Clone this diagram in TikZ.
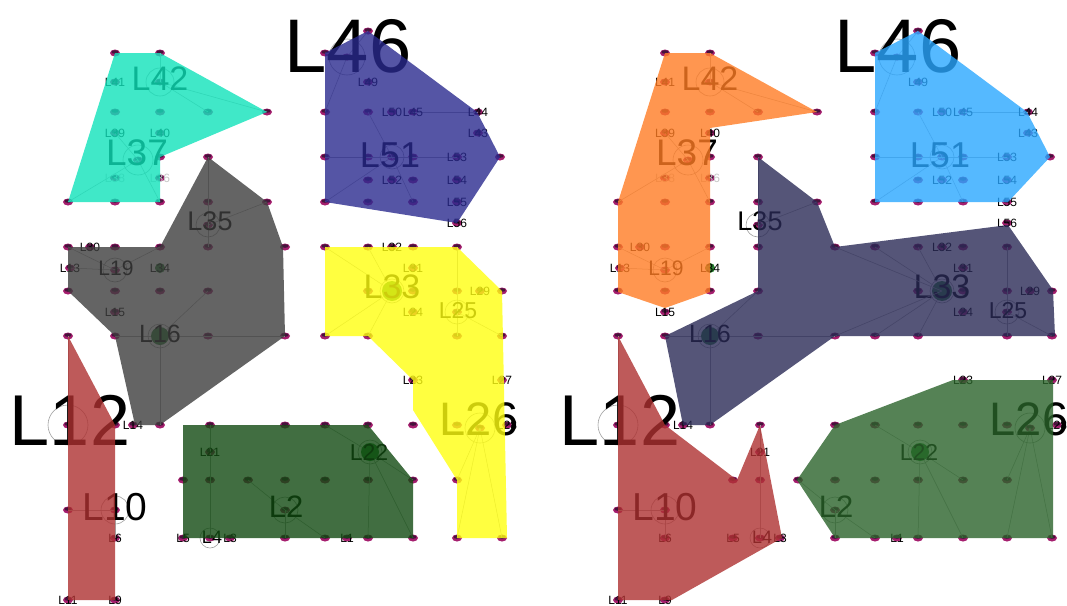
\documentclass[tikz,border=0pt]{standalone}
\usepackage{fontspec}
\setmainfont{Liberation Sans}
\usepackage{tikz}

\definecolor{nodo}{RGB}{165,30,110}
\definecolor{nodoscuro}{RGB}{70,20,60}
\definecolor{testaverde}{RGB}{40,130,50}
\definecolor{turchese}{RGB}{16,226,186}
\definecolor{grigio}{RGB}{61,61,61}
\definecolor{blunotte}{RGB}{42,42,142}
\definecolor{giallo}{RGB}{255,255,16}
\definecolor{verdescuro}{RGB}{17,74,17}
\definecolor{rosso}{RGB}{174,49,49}
\definecolor{arancio}{RGB}{255,124,36}
\definecolor{azzurro}{RGB}{42,167,255}
\definecolor{ardesia}{RGB}{42,42,86}
\definecolor{verde}{RGB}{42,99,42}

\newcommand{\fs}[1]{\fontsize{#1}{#1}\selectfont}

% rete comune ai due pannelli
\newcommand{\rete}{%
  % nodi
  \foreach \n/\x/\y in {H0/368/31, B1/115/53, C1/160/53, G1/325/53,
      L41/115/82, L42/160/82, L46/347/57, L49/368/82,
      B2/115/112, C2/160/112, D2/208/112, E2/267/112, G2/325/112, H2/368/112,
      L50/392/112, L45/413/112, L44/478/112, L39/115/133, L40/160/133, L43/478/133,
      C3/160/157, D3/208/157, L37/138/160, G3/325/157, H3/368/157, L51/392/157,
      I3/413/157, L53/457/157, K3/500/157,
      L38/115/178, L36/160/178, H35/368/180, L52/392/180, I35/413/180, L54/457/180,
      A4/68/202, B4/115/202, C4/160/202, D4/208/202, E4/267/202, G4/325/202,
      H4/368/202, I4/413/202, L55/457/202, L35/208/225, L56/457/223,
      A5/68/247, L30/90/247, B5/115/247, C5/160/247, D5/208/247, F5/285/247,
      G5/325/247, H5/368/247, L32/392/247, I5/413/247, J5/457/247,
      L13/70/268, L19/115/270, L34/160/268, L31/413/268,
      A6/68/291, B6/115/291, C6/160/291, D6/208/291, H6/368/291, L33/392/291,
      I6/413/291, J6/457/291, L29/480/291, K6/502/291,
      L15/115/312, L24/413/312, L25/457/312,
      A7/68/336, B7/115/336, L16/160/336, D7/208/336, F7/285/336, G7/325/336,
      H7/368/336, J7/457/336, K7/502/336, L23/413/380, L27/502/380,
      L12/68/425, B9/115/425, L14/133/425, C9/160/425, D9/210/425, F9/285/425,
      G9/325/425, H9/368/425, I9/413/425, J9/457/425, L26/480/428, L28/507/425,
      L21/210/452, L22/370/452,
      P10/183/480, D10/210/480, E10/248/480, F10/285/480, G10/325/480,
      H10/368/480, I10/413/480, J10/457/480,
      A10/68/510, L10/115/510, L2/285/510,
      L6/115/538, L5/183/538, L4/210/538, L3/230/538, F11/285/538, G11/325/538,
      L1/347/538, H11/368/538, I11/413/538, J11/457/538, K11/502/538,
      L11/68/600, L9/115/600}{
    \coordinate (\n) at (\x,\y);
    \fill[punto] (\n) ellipse (5 and 3.5);
    \fill[puntoscuro] (\x,\y-1) ellipse (3.6 and 1.8);
  }
  % collegamenti alle teste
  \foreach \a/\b in {L42/E2, L42/D2, L42/C1, L37/A4, L37/C4, L37/L39,
      L35/D3, L35/D5, L35/E4, L19/A5, L19/L13, L19/C5,
      L16/B7, L16/F7, L16/C9, L16/D6, L46/G1, L46/H0, L46/G2,
      L51/G3, L51/H2, L51/G4, L51/I4, L45/L44, L51/L53,
      L10/A10, L10/L6, L4/D9, L12/A7,
      L33/G5, L33/G7, L33/H7, L33/H5, L25/J5, L25/K7, L25/J7,
      L26/J11, L26/K11, L26/J10, L22/G9, L22/H11, L22/I11, L22/I10,
      L2/E10, L2/G11, L2/F11}
    \draw[raggio] (\a) -- (\b);
  % teste dei cluster
  \foreach \n/\r in {L42/14, L37/15, L35/12, L19/12, L16/12, L12/20, L10/14,
      L4/10, L2/13, L46/18, L51/12, L33/12, L25/12, L26/15, L22/12}
    \draw[cerchio] (\n) circle (\r);
  \fill[testa] (L16) circle (9);
  \fill[testa] (L22) circle (9);
  \fill[testa] (L33) circle (10);
  \fill[testa] (L34) circle (5);
  % etichette
  \foreach \n in {L41, L49, L50, L45, L44, L39, L40, L43, L53, L52, L54, L55,
      L56, L30, L13, L34, L32, L31, L29, L15, L24, L23, L27, L14, L28, L21,
      L6, L5, L3, L1, L11, L9}
    \node[etich] (t\n) at (\n) {\n};
  \node[etich, text=gray!45] (tL38) at (L38) {L38};
  \node[etich, text=gray!45] (tL36) at (L36) {L36};
  \foreach \n/\s/\x/\y in {L46/76/348/72, L12/72/70/445, L26/47/479/435,
      L10/39/115/520, L37/37/137/165, L51/36/390/167, L42/34/160/90,
      L33/34/392/298, L2/31/286/517, L35/27/210/230, L16/25/160/342,
      L25/23/458/318, L22/23/369/460, L19/21/116/275, L4/18/212/543}
    \node[grande, font=\fs{\s}] (t\n) at (\x,\y) {\n};
}

\begin{document}
\begin{tikzpicture}[x=1pt, y=-1pt,
    punto/.style={fill=nodo},
    puntoscuro/.style={fill=nodoscuro},
    raggio/.style={draw=gray!70, line width=0.5pt},
    cerchio/.style={draw=gray!75, line width=0.6pt},
    testa/.style={fill=testaverde},
    etich/.style={inner sep=0pt, font=\fs{12}},
    grande/.style={inner sep=0pt, anchor=base},
    regione/.style={fill opacity=0.8}]
  \useasboundingbox (0,0) rectangle (1067,605);

  % pannello sinistro
  \begin{scope}[name prefix=s-]
    \rete
    \fill[regione, turchese] (115,53) -- (160,53) -- (267,112) -- (160,157)
      -- (160,202) -- (68,202) -- cycle;
    \fill[regione, grigio] (208,157) -- (267,202) -- (283,247) -- (285,336)
      -- (160,425) -- (135,425) -- (115,336) -- (68,291) -- (68,247)
      -- (160,247) -- cycle;
    \fill[regione, rosso] (68,336) -- (115,425) -- (115,600) -- (68,600) -- cycle;
    \fill[regione, blunotte] (368,31) -- (477,112) -- (500,157) -- (457,223)
      -- (325,202) -- (325,53) -- cycle;
    \fill[regione, giallo] (325,247) -- (457,247) -- (502,291) -- (507,538)
      -- (457,538) -- (457,480) -- (413,410) -- (413,380) -- (368,336)
      -- (325,336) -- cycle;
    \fill[regione, verdescuro] (183,425) -- (368,425) -- (413,480) -- (413,538)
      -- (183,538) -- cycle;
  \end{scope}

  % pannello destro
  \begin{scope}[xshift=550pt, name prefix=d-]
    \rete
    \draw[raggio] (L33) -- (F5);
    \draw[raggio] (L33) -- (F7);
    \fill[regione, arancio] (115,53) -- (160,53) -- (267,112) -- (160,128)
      -- (160,292) -- (115,308) -- (68,292) -- (68,202) -- cycle;
    \fill[regione, ardesia] (208,157) -- (267,202) -- (285,247) -- (458,225)
      -- (503,290) -- (505,336) -- (285,336) -- (160,425) -- (133,425)
      -- (115,336) -- (208,291) -- cycle;
    \fill[regione, azzurro] (368,31) -- (477,112) -- (500,157) -- (458,202)
      -- (325,202) -- (325,53) -- cycle;
    \fill[regione, rosso] (68,336) -- (115,425) -- (187,480) -- (210,425)
      -- (232,538) -- (122,600) -- (68,600) -- cycle;
    \fill[regione, verde] (247,480) -- (285,425) -- (403,380) -- (503,380)
      -- (503,538) -- (285,538) -- cycle;
  \end{scope}
\end{tikzpicture}
\end{document}
